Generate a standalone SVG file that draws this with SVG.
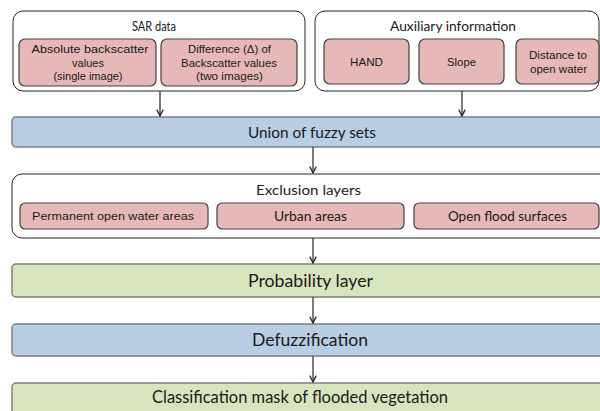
<svg xmlns="http://www.w3.org/2000/svg" width="600" height="411" viewBox="0 0 600 411">
  <style>
    .group { fill: #ffffff; stroke: #262626; stroke-width: 1; }
    .item { fill: #e6b9b8; stroke: #404040; stroke-width: 1.2; }
    .blue { fill: #b9cde5; stroke: #7f7f7f; stroke-width: 1.5; }
    .green { fill: #d7e4bd; stroke: #7f7f7f; stroke-width: 1.5; }
    .cal { font-family: Lato, "Open Sans", sans-serif; fill: #1a1a1a; text-anchor: middle; }
    .ari { font-family: "Liberation Sans", Arial, sans-serif; fill: #1a1a1a; text-anchor: middle; font-size: 11px; }
    .conn line { stroke: #262626; stroke-width: 1.2; marker-end: url(#arrow); }
  </style>
  <defs>
    <marker id="arrow" viewBox="0 0 10 10" refX="9" refY="5" markerWidth="8" markerHeight="8" markerUnits="userSpaceOnUse" orient="auto">
      <path d="M1,1 L9,5 L1,9" fill="none" stroke="#262626" stroke-width="1.6"/>
    </marker>
  </defs>

  <rect width="600" height="411" fill="#ffffff"/>

  <g id="sar-data">
    <rect class="group" x="13" y="11" width="292" height="80" rx="10"/>
    <text class="cal" x="154" y="30.5" font-size="13" textLength="44" lengthAdjust="spacingAndGlyphs">SAR data</text>
    <g id="absolute-backscatter">
      <rect class="item" x="19" y="39" width="137" height="47" rx="6"/>
      <text class="ari" x="90" y="53" textLength="117" lengthAdjust="spacingAndGlyphs">Absolute backscatter</text>
      <text class="ari" x="88" y="66.5">values</text>
      <text class="ari" x="88" y="80">(single image)</text>
    </g>
    <g id="difference-backscatter">
      <rect class="item" x="161" y="39" width="136" height="47" rx="6"/>
      <text class="ari" x="229.5" y="53" textLength="83" lengthAdjust="spacingAndGlyphs">Difference (Δ) of</text>
      <text class="ari" x="229" y="66.5" textLength="96" lengthAdjust="spacingAndGlyphs">Backscatter values</text>
      <text class="ari" x="229.5" y="80" textLength="67" lengthAdjust="spacingAndGlyphs">(two images)</text>
    </g>
  </g>

  <g id="auxiliary-information">
    <rect class="group" x="315" y="11" width="284" height="80" rx="10"/>
    <text class="cal" x="453" y="30.5" font-size="13" textLength="126" lengthAdjust="spacingAndGlyphs">Auxiliary information</text>
    <g id="hand">
      <rect class="item" x="324" y="39" width="85" height="45" rx="6"/>
      <text class="ari" x="366.5" y="66" textLength="33" lengthAdjust="spacingAndGlyphs">HAND</text>
    </g>
    <g id="slope">
      <rect class="item" x="419" y="39" width="85" height="45" rx="6"/>
      <text class="ari" x="461.5" y="66" textLength="29" lengthAdjust="spacingAndGlyphs">Slope</text>
    </g>
    <g id="distance-open-water">
      <rect class="item" x="516" y="39" width="83" height="45" rx="6"/>
      <text class="ari" x="558" y="59" textLength="58" lengthAdjust="spacingAndGlyphs">Distance to</text>
      <text class="ari" x="558.5" y="73" textLength="57" lengthAdjust="spacingAndGlyphs">open water</text>
    </g>
  </g>

  <g id="union-fuzzy-sets">
    <rect class="blue" x="12" y="117" width="600" height="30" rx="4"/>
    <text class="cal" x="312" y="138" font-size="15" textLength="128" lengthAdjust="spacingAndGlyphs">Union of fuzzy sets</text>
  </g>

  <g id="exclusion-layers">
    <rect class="group" x="12" y="174" width="600" height="64" rx="10"/>
    <text class="cal" x="308.5" y="195" font-size="13" textLength="105" lengthAdjust="spacingAndGlyphs">Exclusion layers</text>
    <g id="permanent-open-water">
      <rect class="item" x="20" y="203" width="188" height="26" rx="5"/>
      <text class="ari" x="113" y="220" textLength="162" lengthAdjust="spacingAndGlyphs">Permanent open water areas</text>
    </g>
    <g id="urban-areas">
      <rect class="item" x="217" y="203" width="187" height="26" rx="5"/>
      <text class="cal" x="310.5" y="221" font-size="12.5" textLength="73" lengthAdjust="spacingAndGlyphs">Urban areas</text>
    </g>
    <g id="open-flood-surfaces">
      <rect class="item" x="414" y="203" width="185" height="26" rx="5"/>
      <text class="cal" x="507.5" y="221" font-size="12.5" textLength="119" lengthAdjust="spacingAndGlyphs">Open flood surfaces</text>
    </g>
  </g>

  <g id="probability-layer">
    <rect class="green" x="12" y="264" width="600" height="33" rx="4"/>
    <text class="cal" x="310.5" y="287" font-size="17" textLength="125" lengthAdjust="spacingAndGlyphs">Probability layer</text>
  </g>

  <g id="defuzzification">
    <rect class="blue" x="12" y="324" width="600" height="32" rx="4"/>
    <text class="cal" x="310" y="346" font-size="17" textLength="116" lengthAdjust="spacingAndGlyphs">Defuzzification</text>
  </g>

  <g id="classification-mask">
    <rect class="green" x="12" y="383" width="600" height="40" rx="4"/>
    <text class="cal" x="300" y="403" font-size="17" textLength="296" lengthAdjust="spacingAndGlyphs">Classification mask of flooded vegetation</text>
  </g>

  <g id="connectors" class="conn">
    <line x1="160" y1="91" x2="160" y2="116"/>
    <line x1="462" y1="91" x2="462" y2="116"/>
    <line x1="313" y1="147" x2="313" y2="173"/>
    <line x1="313" y1="238" x2="313" y2="263"/>
    <line x1="313" y1="297" x2="313" y2="323"/>
    <line x1="313" y1="356" x2="313" y2="382"/>
  </g>
</svg>
